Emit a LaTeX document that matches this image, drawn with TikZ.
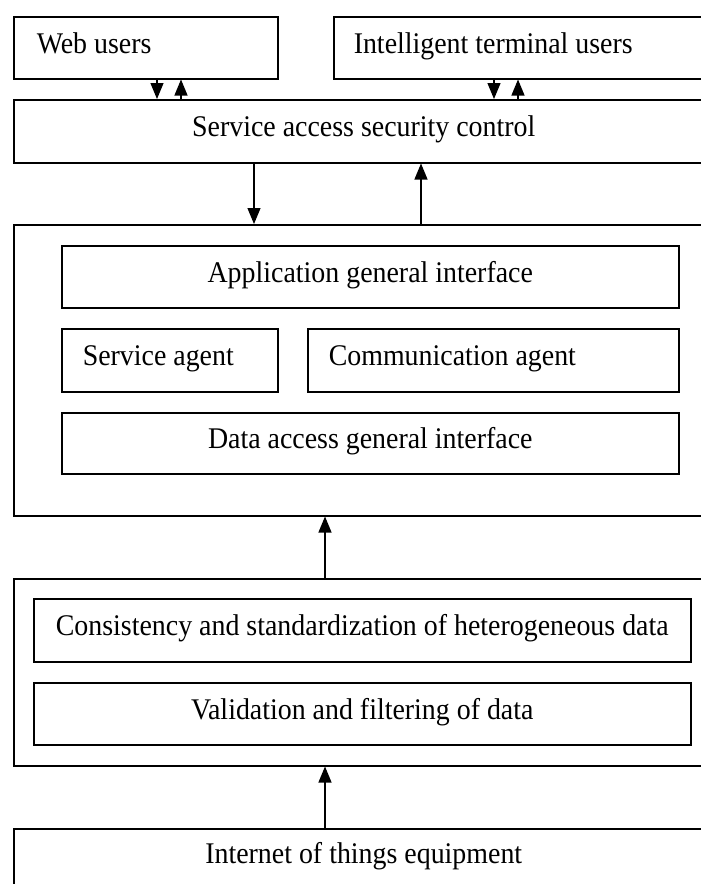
\documentclass[tikz,border=0pt]{standalone}
\usepackage{fontspec}
\usepackage{graphicx}
\setmainfont{Liberation Serif}
\usetikzlibrary{arrows.meta,calc}
\newcommand{\sqz}[1]{\scalebox{0.93}[1]{#1}}
\begin{document}
\begin{tikzpicture}[x=1pt,y=-1pt,
  box/.style={draw,line width=1.5pt,rectangle,inner sep=0pt,anchor=north west,
    font=\fontsize{30}{35}\selectfont,text height=18pt,text depth=6.6pt},
  lbox/.style={box,align=flush left},
  arr/.style={line width=1.2pt,-{Triangle[width=13pt,length=16pt]}}]
\useasboundingbox (0,0) rectangle (701,884);
\clip (0,0) rectangle (701,884);
% top row
\node[lbox,inner xsep=23pt,text width=218pt,minimum height=62pt] (web) at (13,16) {\sqz{Web users}};
\node[lbox,inner xsep=20pt,text width=340pt,minimum height=62pt] (term) at (333,16) {\sqz{Intelligent terminal users}};
\node[box,minimum width=700pt,minimum height=63pt] (sasc) at (13,99) {\sqz{Service access security control}};
% middle container
\node[box,minimum width=700pt,minimum height=291pt] (outer1) at (13,224) {};
\node[box,minimum width=617pt,minimum height=62pt] (app) at (61,245) {\sqz{Application general interface}};
\node[lbox,inner xsep=21pt,text width=174pt,minimum height=63pt] (svc) at (61,328) {\sqz{Service agent}};
\node[lbox,inner xsep=21pt,text width=329pt,minimum height=63pt] (comm) at (307,328) {\sqz{Communication agent}};
\node[box,minimum width=617pt,minimum height=61pt] (data) at (61,412) {\sqz{Data access general interface}};
% lower container
\node[box,minimum width=700pt,minimum height=187pt] (outer2) at (13,578) {};
\node[box,minimum width=657pt,minimum height=63pt] (cons) at (33,598) {\sqz{Consistency and standardization of heterogeneous data}};
\node[box,minimum width=657pt,minimum height=62pt] (valid) at (33,682) {\sqz{Validation and filtering of data}};
% bottom
\node[box,minimum width=700pt,minimum height=58pt] (iot) at (13,828) {\sqz{Internet of things equipment}};
% arrows
\draw[arr] ([xshift=144pt]web.south west) -- ([xshift=144pt]web.south west |- sasc.north);
\draw[arr] ([xshift=168pt]web.south west |- sasc.north) -- ([xshift=168pt]web.south west);
\draw[arr] ([xshift=161pt]term.south west) -- ([xshift=161pt]term.south west |- sasc.north);
\draw[arr] ([xshift=185pt]term.south west |- sasc.north) -- ([xshift=185pt]term.south west);
\draw[arr] ([xshift=241pt]sasc.south west) -- ([xshift=241pt]sasc.south west |- outer1.north);
\draw[arr] ([xshift=408pt]sasc.south west |- outer1.north) -- ([xshift=408pt]sasc.south west);
\draw[arr] ([xshift=312pt]outer2.north west) -- ([xshift=312pt]outer2.north west |- outer1.south);
\draw[arr] ([xshift=312pt]iot.north west) -- ([xshift=312pt]iot.north west |- outer2.south);
\end{tikzpicture}
\end{document}
